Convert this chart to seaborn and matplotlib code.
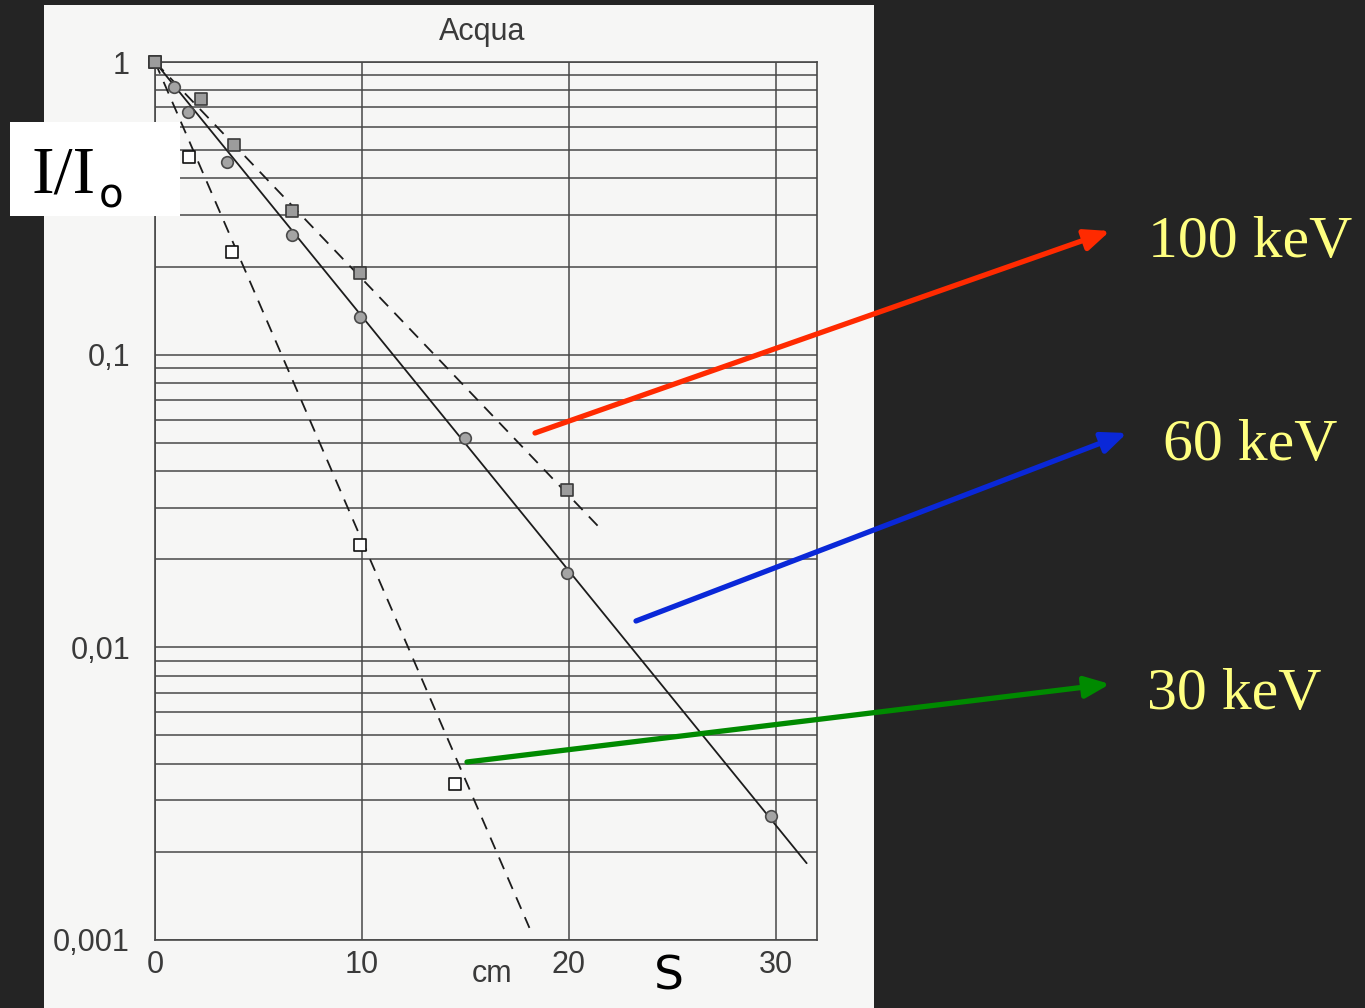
import numpy as np
import pandas as pd
import matplotlib
matplotlib.use("Agg")
import matplotlib.pyplot as plt
import seaborn as sns
from matplotlib.patches import Rectangle, FancyArrowPatch
from matplotlib.ticker import LogLocator, NullFormatter

# Transmitted fraction I/I0 through water versus thickness s (cm)
s_100 = [0, 2.2, 3.8, 6.6, 9.9, 19.9]
i_100 = [1.0, 0.75, 0.52, 0.31, 0.19, 0.0344]
s_60 = [0, 0.9, 1.6, 3.5, 6.6, 9.9, 15.0, 19.9, 29.8]
i_60 = [1.0, 0.82, 0.675, 0.456, 0.257, 0.134, 0.052, 0.0179, 0.00265]
s_30 = [0, 1.65, 3.7, 9.9, 14.5]
i_30 = [1.0, 0.474, 0.225, 0.0223, 0.0034]

# Exponential attenuation lines: first and last point of each drawn segment
fit_s_100 = [0, 21.45]
fit_i_100 = [1.0, 0.0258]
fit_s_60 = [0, 31.5]
fit_i_60 = [1.0, 0.00183]
fit_s_30 = [0, 18.1]
fit_i_30 = [1.0, 0.0011]

energies = ["100 keV", "60 keV", "30 keV"]
x_ticks = [0, 10, 20, 30]
x_tick_labels = ["0", "10", "20", "30"]
y_ticks = [1, 0.1, 0.01, 0.001]
y_tick_labels = ["1", "0,1", "0,01", "0,001"]

points = pd.concat([
    pd.DataFrame({"s": s_100, "I": i_100, "energy": energies[0]}),
    pd.DataFrame({"s": s_60, "I": i_60, "energy": energies[1]}),
    pd.DataFrame({"s": s_30, "I": i_30, "energy": energies[2]}),
], ignore_index=True)
fits = pd.concat([
    pd.DataFrame({"s": fit_s_100, "I": fit_i_100, "energy": energies[0]}),
    pd.DataFrame({"s": fit_s_60, "I": fit_i_60, "energy": energies[1]}),
    pd.DataFrame({"s": fit_s_30, "I": fit_i_30, "energy": energies[2]}),
], ignore_index=True)

sns.set_style("white")
plt.rcParams["font.family"] = ["Liberation Sans Narrow", "Liberation Sans", "DejaVu Sans"]

W, H = 1365, 1008
fig = plt.figure(figsize=(W / 100, H / 100), dpi=100, facecolor="#242424")


def fx(px):
    return px / W


def fy(py):
    return 1 - py / H


# scanned page
fig.add_artist(Rectangle((fx(44), fy(1008)), fx(874) - fx(44), fy(5) - fy(1008),
                         transform=fig.transFigure, facecolor="#f6f6f5",
                         edgecolor="none", zorder=-1))

ax = fig.add_axes([fx(155), fy(940), fx(817) - fx(155), fy(62) - fy(940)])
ax.set_facecolor("none")
ax.set_yscale("log")
ax.set_ylim(0.001, 1)
ax.set_xlim(0, 32)

grid_col = "#484848"
ax.yaxis.set_minor_locator(LogLocator(base=10, subs=np.arange(2, 10)))
ax.yaxis.set_minor_formatter(NullFormatter())
ax.grid(which="both", axis="y", color=grid_col, lw=1.1)
ax.grid(which="major", axis="x", color=grid_col, lw=1.1)
ax.set_axisbelow(True)

sns.lineplot(data=fits, x="s", y="I", hue="energy", style="energy",
             palette={e: "#1c1c1c" for e in energies},
             dashes={"100 keV": (7, 5), "60 keV": "", "30 keV": (7, 5)},
             lw=1.3, estimator=None, sort=False, legend=False, ax=ax)

marker_styles = {
    "100 keV": dict(marker="s", s=85, color="#9c9c9c", edgecolor="#3a3a3a"),
    "60 keV": dict(marker="o", s=70, color="#a4a4a4", edgecolor="#4a4a4a"),
    "30 keV": dict(marker="s", s=80, color="white", edgecolor="#111111"),
}
# lowest energy first so the shared starting point shows the filled square
for e in reversed(energies):
    sub = points[points["energy"] == e]
    sns.scatterplot(data=sub, x="s", y="I", linewidth=1.2, zorder=4,
                    legend=False, clip_on=False, ax=ax, **marker_styles[e])

ax.set_xticks(x_ticks, x_tick_labels)
ax.set_yticks(y_ticks, y_tick_labels)
ax.tick_params(which="both", length=0, labelsize=22, labelcolor="#3a3a3a")
ax.tick_params(axis="x", pad=7)
ax.tick_params(axis="y", pad=18)
ax.set_xlabel("")
ax.set_ylabel("")
for sp in ax.spines.values():
    sp.set_visible(True)
    sp.set_color(grid_col)
    sp.set_linewidth(1.2)

# texts on the page
fig.text(fx(482), fy(40), "Acqua", ha="center", va="baseline", fontsize=22, color="#3a3a3a")
fig.text(fx(492), fy(982), "cm", ha="center", va="baseline", fontsize=22, color="#3a3a3a")
fig.text(fx(669), fy(990), "S", ha="center", va="baseline", fontsize=34,
         color="black", family=["DejaVu Sans"])

# axis quantity in a white box
fig.add_artist(Rectangle((fx(10), fy(216)), fx(180) - fx(10), fy(122) - fy(216),
                         transform=fig.transFigure, facecolor="white",
                         edgecolor="none", zorder=5))
fig.text(fx(31), fy(193), "I/I", ha="left", va="baseline", fontsize=49,
         color="black", family=["Liberation Serif", "DejaVu Serif"], zorder=6)
fig.text(fx(99), fy(208), "o", ha="left", va="baseline", fontsize=29,
         color="black", family=["DejaVu Sans"], zorder=6)

# energy labels with arrows
arrows = [
    ("100 keV", (535, 433), (1110, 231), "#ff2a00", (1148, 257)),
    ("60 keV", (636, 621), (1127, 433), "#0a28d8", (1163, 460)),
    ("30 keV", (467, 762), (1110, 684), "#008a00", (1147, 709)),
]
for label, (x0, y0), (x1, y1), col, (tx, ty) in arrows:
    fig.add_artist(FancyArrowPatch((fx(x0), fy(y0)), (fx(x1), fy(y1)),
                                   transform=fig.transFigure,
                                   arrowstyle="-|>,head_length=0.75,head_width=0.32",
                                   mutation_scale=20, lw=3.8, color=col,
                                   shrinkA=0, shrinkB=0, zorder=7))
    fig.text(fx(tx), fy(ty), label, ha="left", va="baseline", fontsize=43,
             color="#ffff80", family=["Liberation Serif", "DejaVu Serif"])

fig.savefig("out.png", dpi=100, facecolor=fig.get_facecolor())
